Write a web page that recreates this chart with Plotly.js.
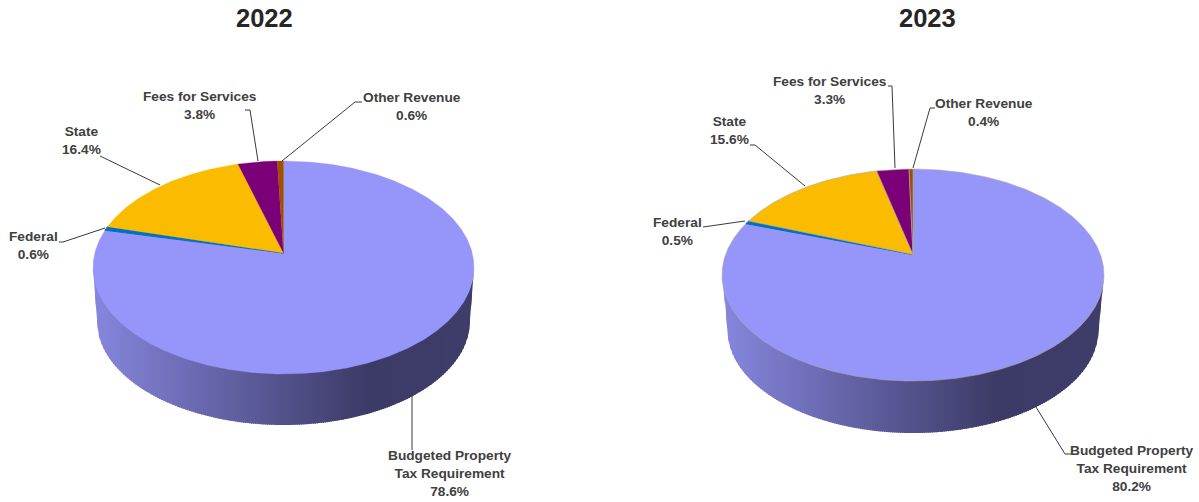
<!DOCTYPE html>
<html>
<head>
<meta charset="utf-8">
<script src="https://cdn.plot.ly/plotly-3.0.1.min.js"></script>
<style>html,body{margin:0;padding:0;background:#fff}#chart{width:1199px;height:502px}</style>
</head>
<body>
<div id="chart"></div>
<script>
// ---- data ----
const categories = ["Budgeted Property Tax Requirement", "Federal", "State", "Fees for Services", "Other Revenue"];
const values2022 = [78.6, 0.6, 16.4, 3.8, 0.6];
const values2023 = [80.2, 0.5, 15.6, 3.3, 0.4];
const years = ["2022", "2023"];
const labelNames = ["Budgeted Property<br>Tax Requirement", "Federal", "State", "Fees for Services", "Other Revenue"];

// ---- styles ----
const sliceColors = ["#9696FA", "#0070C0", "#FBBC00", "#7B0078", "#A04F00"];
const textColor = "#404040";
const labelFont = {family: "Liberation Sans, Arial, sans-serif", size: 13.7, color: textColor, weight: 700};
const wallStops = [[0, [133,133,220]], [0.725, [60,58,102]], [1, [62,60,104]]];

// ---- layout of each drawn pie (pixel-like axis units) ----
const pies = [
  {values: values2022, year: years[0], titleX: 264.5, cx: 283.5, cy: 267.5, rx: 190.5, ry: 106.5, apexY: 253,
   bx: 283.5, by: 321, brx: 186.5, bry: 104, edge: null,
   labelX: [450, 33, 81, 200, 412], labelY: [473.5, 245.5, 140.5, 105.5, 106.5],
   leaders: [[[412,412],[394,450]], [[59,63,105],[242,242,228]], [[100,160],[156,185]], [[245,250,258],[110,110,161]], [[362,355,282],[102,102,161]]]},
  {values: values2023, year: years[1], titleX: 927, cx: 913, cy: 275, ry: 106, rx: 191, apexY: 254.5,
   bx: 913, by: 330, brx: 185.5, bry: 103, edge: "#a8a8a8",
   labelX: [1132, 677, 729, 830, 984], labelY: [468.5, 231.5, 130.5, 90.5, 112.5],
   leaders: [[[1036,1065,1071],[407,454,454]], [[703,745],[227,221]], [[750,755,805],[145,145,186]], [[888,892,895],[86,86,168]], [[935,930,913],[108,108,168]]]}
];

function wallColor(p) {
  for (let i = 1; i < wallStops.length; i++) {
    if (p <= wallStops[i][0]) {
      const [p0, c0] = wallStops[i-1], [p1, c1] = wallStops[i];
      const f = (p - p0) / (p1 - p0);
      return "rgb(" + c0.map((c, k) => Math.round(c + (c1[k] - c) * f)).join(",") + ")";
    }
  }
  return "rgb(" + wallStops[wallStops.length-1][1].join(",") + ")";
}

// Perspective mapping of the disc: angle on the pie -> point on the tilted rim.
function rimPoint(pie, deg) {
  const a = deg * Math.PI / 180, e = (pie.cy - pie.apexY) / pie.ry;
  const sx = Math.sin(a), sy = Math.cos(a), d = 1 + e * sy;
  return [pie.cx + pie.rx * sx * Math.sqrt(1 - e * e) / d, pie.cy - pie.ry * (sy + e) / d];
}

// Upper and lower outline of the side wall at a given x.
function wallTop(pie, x) {
  const u = Math.max(-1, Math.min(1, (x - pie.cx) / pie.rx));
  return pie.cy + pie.ry * Math.sqrt(1 - u * u) - 1;
}
function wallBottom(pie, x) {
  const dx = Math.abs(x - pie.bx);
  if (dx <= pie.brx) {
    const u = dx / pie.brx;
    return pie.by + pie.bry * Math.sqrt(1 - u * u);
  }
  return pie.by + (pie.cy - pie.by) * (dx - pie.brx) / (pie.rx - pie.brx);
}

const traces = [];
const annotations = [];

pies.forEach(pie => {
  // side wall: horizontal gradient from narrow vertical strips, each painted over its left neighbour's overlap
  const step = 2, left = pie.cx - pie.rx, right = pie.cx + pie.rx;
  for (let x0 = left; x0 < right; x0 += step) {
    const x1 = Math.min(right, x0 + step), xe = Math.min(right, x1 + 1);
    const xs = [x0, x1, xe, xe, x1, x0, x0];
    const ys = [wallTop(pie, x0), wallTop(pie, x1), wallTop(pie, xe), wallBottom(pie, xe), wallBottom(pie, x1), wallBottom(pie, x0), wallTop(pie, x0)];
    const col = wallColor(Math.max(0, ((x0 + x1) / 2 - (pie.bx - pie.brx)) / (2 * pie.brx)));
    traces.push({type: "scatter", mode: "lines", x: xs, y: ys, fill: "toself", fillcolor: col,
      line: {color: col, width: 0}, hoverinfo: "skip", showlegend: false});
  }
  // top face: one wedge per value, clockwise from twelve o'clock
  let cum = 0;
  pie.values.forEach((v, i) => {
    const start = cum / 100 * 360, end = (cum + v) / 100 * 360;
    cum += v;
    const xs = [pie.cx], ys = [pie.apexY];
    const n = Math.max(2, Math.ceil((end - start) / 0.5));
    for (let k = 0; k <= n; k++) {
      const p = rimPoint(pie, start + (end - start) * k / n);
      xs.push(p[0]); ys.push(p[1]);
    }
    xs.push(pie.cx); ys.push(pie.apexY);
    const thin = v < 0.55 || i === 1;
    traces.push({type: "scatter", mode: "lines", x: xs, y: ys, fill: "toself", fillcolor: sliceColors[i],
      line: {color: i === 1 ? sliceColors[i] : (pie.edge || sliceColors[i]), width: i === 1 ? 1 : (pie.edge ? 0.6 : 0.3)},
      name: categories[i] + " " + pie.year, text: v + "%", hoverinfo: "name+text", showlegend: false});
    // leader line and label
    traces.push({type: "scatter", mode: "lines", x: pie.leaders[i][0], y: pie.leaders[i][1],
      line: {color: "#3a3a3a", width: 1}, hoverinfo: "skip", showlegend: false});
    annotations.push({x: pie.labelX[i], y: pie.labelY[i], xref: "x", yref: "y", xanchor: "center", yanchor: "middle",
      showarrow: false, align: "center", text: labelNames[i] + "<br>" + v.toFixed(1) + "%", font: labelFont});
  });
  annotations.push({x: pie.titleX, y: 18, xref: "x", yref: "y", xanchor: "center", yanchor: "middle", showarrow: false,
    text: pie.year, font: {family: "Liberation Sans, Arial, sans-serif", size: 25.5, color: "#262626", weight: 700}});
});

const layout = {
  width: 1199, height: 502, margin: {l: 0, r: 0, t: 0, b: 0},
  paper_bgcolor: "#ffffff", plot_bgcolor: "#ffffff", showlegend: false,
  xaxis: {range: [0, 1199], visible: false, fixedrange: true},
  yaxis: {range: [502, 0], visible: false, fixedrange: true},
  annotations: annotations
};
Plotly.newPlot("chart", traces, layout, {displayModeBar: false});
</script>
</body>
</html>
